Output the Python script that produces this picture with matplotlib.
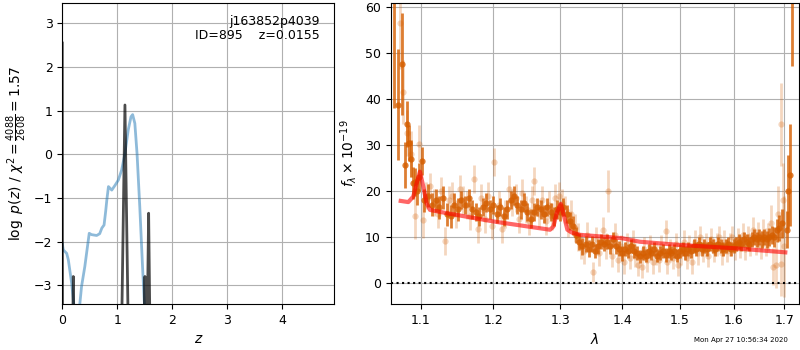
import numpy as np
import matplotlib
matplotlib.use("Agg")
import matplotlib.pyplot as plt
from matplotlib.ticker import ScalarFormatter, NullLocator, FixedLocator

# ---------------- left panel data: log p(z) ----------------
pz_z = [0.0, 0.018, 0.08, 0.11, 0.17, 0.20, 0.24, 0.29, 0.35, 0.41, 0.49, 0.53,
        0.625, 0.68, 0.72, 0.76, 0.79, 0.81, 0.84, 0.90, 0.96, 1.02, 1.08, 1.14,
        1.20, 1.25, 1.28, 1.32, 1.36, 1.41, 1.46, 1.49, 1.52]
pz_lp = [-2.05, -2.19, -2.27, -2.42, -2.95, -3.33, -3.8, -3.8, -3.03, -2.57, -1.81, -1.84,
         -1.86, -1.82, -1.69, -1.62, -1.30, -1.05, -0.74, -0.82, -0.71, -0.59, -0.36, 0.02,
         0.56, 0.86, 0.91, 0.71, 0.02, -1.20, -2.57, -3.33, -3.9]

fine_z = [0.0, 0.004, 0.19, 0.20, 0.21, 1.08, 1.14, 1.20, 1.485, 1.504, 1.52,
          1.545, 1.571, 1.595]
fine_lp = [2.55, -4.0, -4.0, -2.8, -4.0, -4.0, 1.13, -4.0, -4.0, -2.8, -4.0,
           -4.0, -1.35, -4.0]

z_ticks = [0, 1, 2, 3, 4]
lp_ticks = [-3, -2, -1, 0, 1, 2, 3]

# ---------------- right panel data: spectrum ----------------
model_lam = [1.074, 1.0838, 1.0903, 1.0947, 1.099, 1.1034, 1.1079, 1.1123, 1.1346,
             1.200, 1.2842, 1.2894, 1.2946, 1.3008, 1.306, 1.3112, 1.318, 1.3313,
             1.400, 1.4298, 1.500, 1.600, 1.702]
model_flux = [17.85, 17.6, 18.8, 21.7, 24.2, 21.0, 17.3, 15.9, 15.2,
              13.4, 11.6, 12.3, 15.2, 17.2, 14.5, 11.6, 11.0, 10.5,
              9.76, 9.0, 8.3, 7.6, 6.7]

dark_lam = [1.0658, 1.0709, 1.0756, 1.0796, 1.0826, 1.0851, 1.0875, 1.0896, 1.0925,
            1.0950, 1.0975, 1.1013,
            1.105, 1.110, 1.115, 1.120, 1.125, 1.130, 1.135, 1.140, 1.145, 1.150,
            1.155, 1.160, 1.165, 1.170, 1.175, 1.180, 1.185, 1.190, 1.195, 1.200,
            1.205, 1.210, 1.215, 1.220, 1.225, 1.230, 1.235, 1.240, 1.245, 1.250,
            1.255, 1.260, 1.265, 1.270, 1.275, 1.280, 1.285, 1.290, 1.295, 1.300,
            1.305, 1.310, 1.315, 1.320, 1.325, 1.330, 1.335, 1.340, 1.345, 1.350,
            1.355, 1.360, 1.365, 1.370, 1.375, 1.380, 1.385, 1.390, 1.395, 1.400,
            1.405, 1.410, 1.415, 1.420, 1.425, 1.430, 1.435, 1.440, 1.445, 1.450,
            1.455, 1.460, 1.465, 1.470, 1.475, 1.480, 1.485, 1.490, 1.495, 1.500,
            1.505, 1.510, 1.515, 1.520, 1.525, 1.530, 1.535, 1.540, 1.545, 1.550,
            1.555, 1.560, 1.565, 1.570, 1.575, 1.580, 1.585, 1.590, 1.595, 1.600,
            1.605, 1.610, 1.615, 1.620, 1.625, 1.630, 1.635, 1.640, 1.645, 1.650,
            1.655, 1.660, 1.665, 1.670, 1.675, 1.680, 1.685, 1.690, 1.695,
            1.7055, 1.7069, 1.7116, 1.7148]
dark_flux = [62.0, 38.7, 47.5, 25.7, 34.6, 30.4, 27.0, 21.7, 22.0,
             20.0, 23.0, 26.5,
             18.0, 19.0, 17.0, 18.0, 16.5, 18.5, 15.0, 14.5, 17.0, 16.0,
             18.0, 17.0, 18.5, 16.0, 15.5, 14.5, 16.5, 17.5, 16.0, 17.0,
             15.0, 16.5, 14.5, 16.0, 18.0, 19.0, 17.0, 16.0, 17.5, 15.5,
             14.0, 15.5, 16.5, 16.0, 15.0, 16.5, 15.5, 14.5, 16.0, 15.5,
             16.5, 15.0, 13.5, 12.5, 10.5, 9.0, 8.0, 8.5, 7.5, 8.5,
             7.0, 8.0, 9.0, 8.5, 9.0, 8.0, 9.5, 8.0, 7.5, 6.5,
             7.5, 7.0, 8.0, 7.0, 6.5, 5.8, 6.5, 6.0, 7.0, 6.5,
             7.5, 6.0, 6.5, 7.0, 6.2, 7.0, 6.5, 7.0, 6.0, 7.0,
             7.5, 6.5, 7.5, 7.0, 8.0, 7.5, 8.5, 7.5, 8.0, 7.5,
             8.5, 8.0, 7.5, 8.5, 8.0, 7.5, 8.0, 8.5, 7.5, 8.0,
             8.5, 9.0, 8.5, 9.5, 9.0, 8.5, 9.5, 10.0, 9.5, 10.0,
             9.5, 10.0, 9.5, 10.0, 10.5, 10.0, 11.5, 12.0, 13.0,
             11.6, 19.9, 23.5, 65.0]
dark_err = [24.0, 12.0, 11.0, 5.0, 5.0, 4.0, 4.0, 3.5, 3.0,
            3.0, 3.0, 3.0,
            2.5, 2.5, 2.5, 2.5, 2.5, 2.5, 2.5, 2.5, 2.5, 2.5,
            2.0, 2.0, 2.0, 2.0, 2.0, 2.0, 2.0, 2.0, 2.0, 2.0,
            2.0, 2.0, 2.0, 2.0, 2.0, 2.0, 2.0, 2.0, 2.0, 2.0,
            2.0, 2.0, 2.0, 2.0, 2.0, 2.0, 2.0, 2.0, 2.0, 2.0,
            2.0, 2.0, 2.0, 2.0, 1.8, 1.8, 1.8, 1.8, 1.8, 1.8,
            1.6, 1.6, 1.6, 1.6, 1.6, 1.6, 1.6, 1.6, 1.6, 1.6,
            1.5, 1.5, 1.5, 1.5, 1.5, 1.5, 1.5, 1.5, 1.5, 1.5,
            1.5, 1.5, 1.5, 1.5, 1.5, 1.5, 1.5, 1.5, 1.5, 1.5,
            1.5, 1.5, 1.5, 1.5, 1.5, 1.5, 1.5, 1.5, 1.5, 1.5,
            1.5, 1.5, 1.5, 1.5, 1.5, 1.5, 1.5, 1.5, 1.5, 1.5,
            1.6, 1.6, 1.6, 1.6, 1.6, 1.6, 1.7, 1.7, 1.7, 1.8,
            1.8, 1.8, 1.9, 2.0, 2.0, 2.2, 2.5, 2.8, 3.2,
            4.0, 8.0, 11.0, 18.0]

light_lam = [1.0725, 1.0775, 1.0825, 1.0875, 1.0925, 1.0975, 1.1025, 1.1075, 1.1125,
             1.1175, 1.1225, 1.1275, 1.1325, 1.1375, 1.1425, 1.1475, 1.1525, 1.1575,
             1.1625, 1.1675, 1.1725, 1.1775, 1.1825, 1.1875, 1.1925, 1.1975, 1.2013,
             1.2075, 1.2125, 1.2175, 1.2225, 1.2275, 1.2325, 1.2375, 1.2425, 1.2475,
             1.2525, 1.2575, 1.2600, 1.2675, 1.2725, 1.2775, 1.2825, 1.2875, 1.2925,
             1.2975, 1.3025, 1.3075, 1.3125, 1.3175, 1.3225, 1.3275, 1.3325, 1.3375,
             1.3425, 1.3515, 1.3575, 1.3625, 1.3675, 1.3725, 1.3770, 1.3825, 1.3875,
             1.3925, 1.3975, 1.4025, 1.4075, 1.4125, 1.4175, 1.4225, 1.4275, 1.4330,
             1.4375, 1.4425, 1.4475, 1.4525, 1.4575, 1.4625, 1.4675, 1.4755, 1.4775,
             1.4825, 1.4875, 1.4925, 1.4975, 1.5025, 1.5075, 1.5125, 1.5175, 1.5225,
             1.5275, 1.5325, 1.5375, 1.5425, 1.5475, 1.5525, 1.5575, 1.5625, 1.5675,
             1.5725, 1.5775, 1.5825, 1.5875, 1.5925, 1.5975, 1.6025, 1.6075, 1.6125,
             1.6175, 1.6225, 1.6275, 1.6325, 1.6375, 1.6425, 1.6475, 1.6525, 1.6575,
             1.6625, 1.6675, 1.6725, 1.6777, 1.6825, 1.6875, 1.6925, 1.6942, 1.6975,
             1.7000]
light_flux = [56.5, 41.5, 32.5, 28.0, 14.5, 30.3, 13.8, 19.0, 21.0,
              17.5, 15.0, 20.0, 9.2, 18.0, 19.0, 15.0, 20.5, 18.0,
              17.0, 14.5, 22.6, 11.8, 18.5, 14.0, 19.0, 12.5, 26.3,
              17.0, 11.8, 15.0, 20.5, 17.5, 18.5, 14.0, 19.5, 16.0,
              13.5, 18.0, 22.2, 15.0, 18.0, 13.5, 17.0, 14.5, 18.5,
              19.0, 17.5, 16.0, 13.0, 15.0, 12.0, 10.0, 8.0, 7.0,
              10.5, 2.4, 9.5, 6.5, 11.5, 8.0, 20.0, 6.0, 10.5,
              5.0, 8.0, 4.5, 8.5, 5.5, 9.0, 6.0, 4.0, 3.6,
              7.5, 5.0, 8.0, 4.5, 6.5, 5.0, 8.0, 11.3, 4.5,
              7.0, 5.5, 8.5, 4.0, 6.5, 9.0, 5.5, 8.0, 4.5,
              9.0, 6.5, 10.0, 7.0, 8.5, 6.0, 9.5, 7.0, 8.5,
              10.0, 6.5, 9.0, 7.0, 8.5, 10.0, 7.5, 9.5, 8.0,
              10.5, 7.5, 10.0, 8.5, 11.5, 9.0, 10.5, 8.0, 11.0,
              9.0, 10.0, 13.0, 3.6, 4.0, 15.0, 4.2, 34.5, 18.0,
              8.0]
light_err = [10.0, 7.0, 5.0, 5.0, 5.0, 4.0, 4.0, 3.0, 3.0,
             3.0, 3.0, 3.0, 3.0, 3.0, 3.0, 3.0, 3.0, 3.0,
             3.0, 3.0, 3.0, 3.0, 3.0, 3.0, 3.0, 3.0, 3.0,
             3.0, 3.0, 3.0, 3.0, 3.0, 3.0, 3.0, 3.0, 3.0,
             3.0, 3.0, 3.0, 3.0, 3.0, 3.0, 3.0, 3.0, 3.0,
             3.0, 3.0, 3.0, 3.0, 3.0, 3.0, 3.0, 2.8, 2.8,
             2.8, 2.2, 2.8, 2.8, 2.8, 2.8, 4.5, 2.5, 2.5,
             2.5, 2.5, 2.5, 2.5, 2.5, 2.5, 2.5, 2.5, 2.5,
             2.5, 2.5, 2.5, 2.5, 2.5, 2.5, 2.5, 2.5, 2.5,
             2.5, 2.5, 2.5, 2.5, 2.5, 2.5, 2.5, 2.5, 2.5,
             2.5, 2.5, 2.5, 2.5, 2.5, 2.5, 2.5, 2.5, 2.5,
             2.5, 2.5, 2.5, 2.5, 2.5, 2.5, 2.5, 2.5, 2.5,
             2.5, 2.5, 2.5, 2.5, 2.8, 2.8, 2.8, 2.8, 3.0,
             3.0, 3.0, 4.0, 4.0, 5.0, 6.0, 7.0, 9.0, 8.0,
             11.0]

lam_ticks = [1.1, 1.2, 1.3, 1.4, 1.5, 1.6, 1.7]
flux_ticks = [0, 10, 20, 30, 40, 50, 60]

title_text = "j163852p4039\nID=895    z=0.0155"
stamp_text = "Mon Apr 27 10:56:34 2020"

# ---------------- figure ----------------
W, H = 800, 350
fig = plt.figure(figsize=(8, 3.5), dpi=100)
ax1 = fig.add_axes([62.3 / W, 1 - 304 / H, (334.3 - 62.3) / W, (304 - 3.3) / H])
ax2 = fig.add_axes([390.7 / W, 1 - 304 / H, (799.3 - 390.7) / W, (304 - 3.3) / H])

TICK_FS = 9

# left
ax1.plot(pz_z, pz_lp, color='#1f77b4', alpha=0.5, lw=2)
ax1.plot(fine_z, fine_lp, color='k', alpha=0.7, lw=2)
ax1.set_xlim(0, 4.95)
ax1.set_ylim(-3.43, 3.46)
ax1.set_xticks(z_ticks)
ax1.set_yticks(lp_ticks)
ax1.grid(True)
ax1.set_axisbelow(True)
ax1.tick_params(labelsize=TICK_FS)
ax1.set_xlabel('$z$', fontsize=10)
ax1.set_ylabel(r'$\log\ p(z)$ / $\chi^2=\frac{4088}{2608}=1.57$', fontsize=10)
ax1.text(0.947, 0.96, title_text, transform=ax1.transAxes, ha='right', va='top',
         fontsize=9, linespacing=1.1)

# right
c = (0.8352941176470589, 0.3686274509803922, 0.0)
ax2.errorbar(light_lam, light_flux, yerr=light_err, color=c, alpha=0.25,
             marker='o', ms=4.5, linestyle='None', elinewidth=2, mew=0)
ax2.errorbar(dark_lam, dark_flux, yerr=dark_err, color=c, alpha=0.8,
             marker='o', ms=4.5, linestyle='None', elinewidth=2, mew=0)
ax2.plot(model_lam, model_flux, color='r', alpha=0.6, lw=3, zorder=5)
ax2.axhline(0, color='k', ls=':', lw=1.5)
ax2.set_xscale('log')
ax2.set_xlim(1.0612, 1.7308)
ax2.set_ylim(-4.5, 60.7)
ax2.xaxis.set_minor_locator(NullLocator())
ax2.xaxis.set_major_locator(FixedLocator(lam_ticks))
fmt = ScalarFormatter()
ax2.xaxis.set_major_formatter(fmt)
ax2.set_xticklabels([f'{v:.1f}' for v in lam_ticks])
ax2.set_yticks(flux_ticks)
ax2.grid(True)
ax2.set_axisbelow(True)
ax2.tick_params(labelsize=TICK_FS)
ax2.set_xlabel(r'$\lambda$', fontsize=10)
ax2.set_ylabel(r'$f_\lambda\times10^{-19}$', fontsize=10)

fig.text(787.7 / W, 1 - 343 / H, stamp_text, ha='right', va='bottom', fontsize=5)

fig.savefig('out.png', dpi=100)
